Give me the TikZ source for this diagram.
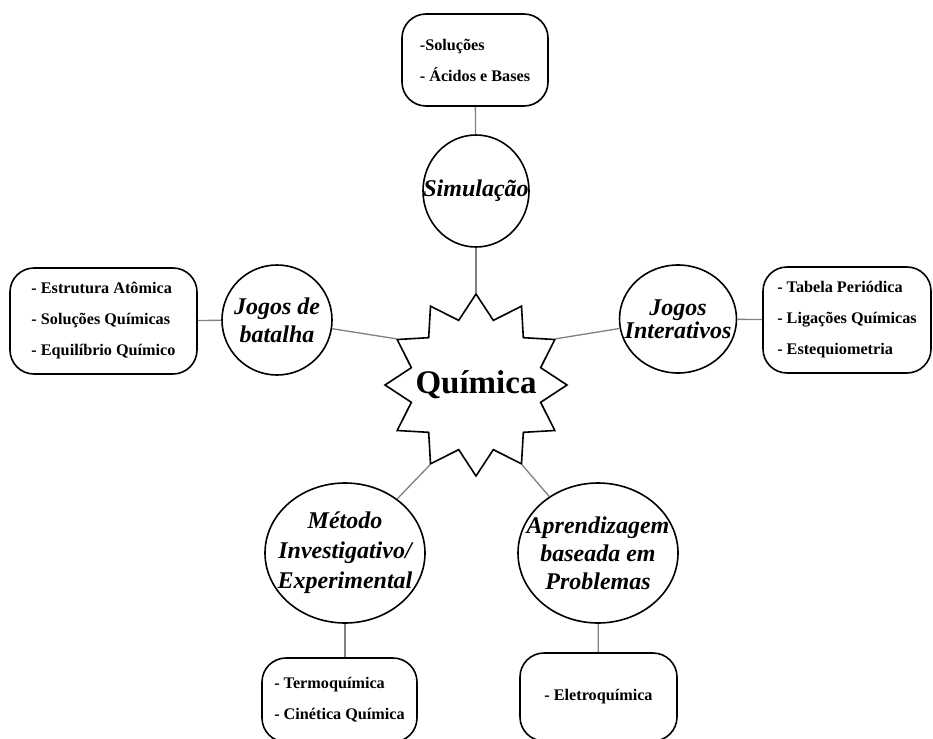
\documentclass[tikz,border=0pt]{standalone}
\usepackage{fontspec}
\setmainfont{Liberation Serif}
\usetikzlibrary{shapes.geometric}

\begin{document}
\begin{tikzpicture}[x=1pt,y=-1pt,
  topic/.style={ellipse,draw,line width=1.6pt,inner sep=0pt},
  topictxt/.style={font=\bfseries\itshape\fontsize{24}{28}\selectfont,align=center},
  box/.style={draw,line width=1.6pt,rounded corners=24pt,align=left,
    font=\bfseries\fontsize{16.2}{31}\selectfont},
  link/.style={gray,line width=1.3pt}]
  \useasboundingbox (0,0) rectangle (933,738);
  \clip (0,0) rectangle (933,738);

  % centro
  \node[star,star points=12,star point ratio=1.36,minimum size=182pt,draw,line width=1.6pt,
    inner sep=0pt,label={[font=\bfseries\fontsize{33}{36}\selectfont]center:Química}] (qui) at (476,385) {};

  % metodologias
  \node[topic,minimum width=106pt,minimum height=112pt,
    label={[topictxt]center:Simulação}] (sim) at (476,191) {};
  \node[topic,minimum width=110pt,minimum height=110pt,
    label={[topictxt]center:{Jogos de\\batalha}}] (bat) at (277,320) {};
  \node[topic,minimum width=117pt,minimum height=108pt,
    label={[topictxt,font=\bfseries\itshape\fontsize{24}{23}\selectfont]center:{Jogos\\Interativos}}] (int) at (678,319) {};
  \node[topic,minimum width=160pt,minimum height=140pt,
    label={[topictxt,font=\bfseries\itshape\fontsize{24}{30}\selectfont]center:{Método\\Investigativo/\\Experimental}}] (met) at (345,553) {};
  \node[topic,minimum width=160pt,minimum height=140pt,
    label={[topictxt]center:{Aprendizagem\\baseada em\\Problemas}}] (apr) at (598,553) {};

  % conteudos
  \node[box,minimum width=146pt,minimum height=92pt] (simb) at (475,60)
    {-Soluções\\- Ácidos e Bases};
  \node[box,minimum width=187pt,minimum height=106pt] (batb) at (103.5,321)
    {- Estrutura Atômica\\- Soluções Químicas\\- Equilíbrio Químico};
  \node[box,minimum width=168pt,minimum height=106pt] (intb) at (847,320)
    {- Tabela Periódica\\- Ligações Químicas\\- Estequiometria};
  \node[box,minimum width=155pt,minimum height=84pt] (metb) at (339.5,700)
    {- Termoquímica\\- Cinética Química};
  \node[box,minimum width=157pt,minimum height=88pt] (aprb) at (598.5,697)
    {- Eletroquímica};

  \draw[link] (simb) -- (sim);
  \draw[link] (sim) -- (qui.90);
  \draw[link] (batb) -- (bat);
  \draw[link] (bat) -- (qui.150);
  \draw[link] (int) -- (qui.30);
  \draw[link] (int) -- (intb);
  \draw[link] (met) -- (qui.240);
  \draw[link] (apr) -- (qui.300);
  \draw[link] (met.south) -- (met.south |- metb.north);
  \draw[link] (apr) -- (aprb);
\end{tikzpicture}
\end{document}
